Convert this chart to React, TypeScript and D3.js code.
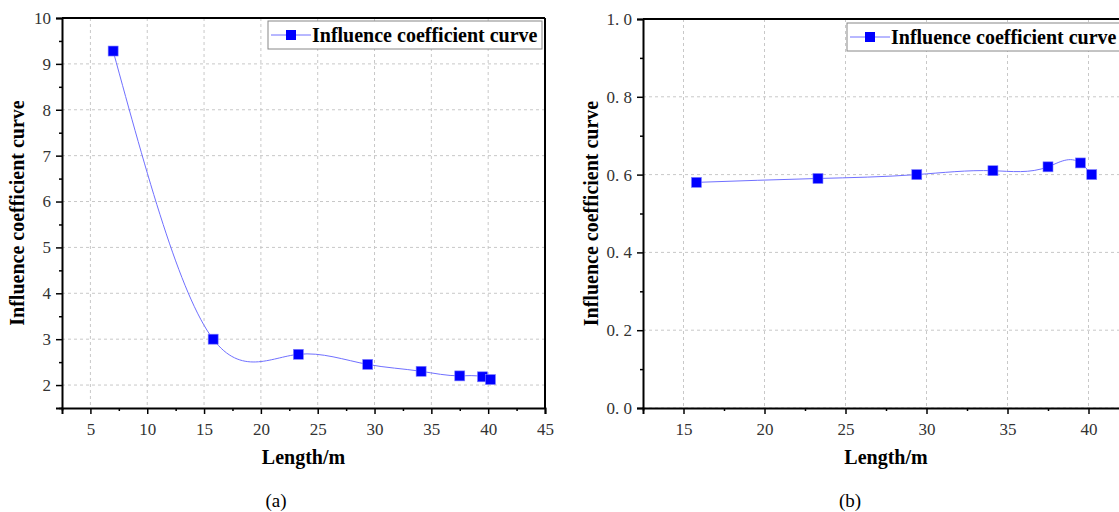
import { useEffect, useRef } from "react";
import * as d3 from "d3";

// panel (a)
const lengthA = [7, 15.8, 23.3, 29.4, 34.1, 37.5, 39.5, 40.2];
const coefA = [9.28, 3.0, 2.67, 2.45, 2.3, 2.2, 2.18, 2.12];
const xTicksA = [5, 10, 15, 20, 25, 30, 35, 40, 45];
const yTicksA = [2, 3, 4, 5, 6, 7, 8, 9, 10];

// panel (b)
const lengthB = [15.8, 23.3, 29.4, 34.1, 37.5, 39.5, 40.2];
const coefB = [0.58, 0.59, 0.6, 0.61, 0.62, 0.63, 0.6];
const xTicksB = [15, 20, 25, 30, 35, 40];
const yTicksB = [0, 0.2, 0.4, 0.6, 0.8, 1.0];

const seriesName = "Influence coefficient curve";
const serif = "'Liberation Serif', 'Times New Roman', Times, 'DejaVu Serif', serif";

// cubic spline in x (like Origin's "Spline" connect), as a d3 curve
class SplineX {
  _context: any;
  _x: number[] = [];
  _y: number[] = [];
  _line = NaN;
  constructor(context: any) {
    this._context = context;
  }
  areaStart() {
    this._line = 0;
  }
  areaEnd() {
    this._line = NaN;
  }
  lineStart() {
    this._x = [];
    this._y = [];
  }
  point(x: number, y: number) {
    this._x.push(+x);
    this._y.push(+y);
  }
  lineEnd() {
    const xs = this._x;
    const ys = this._y;
    const n = xs.length;
    if (!n) return;
    this._context.moveTo(xs[0], ys[0]);
    if (n === 2) {
      this._context.lineTo(xs[1], ys[1]);
      return;
    }
    const h: number[] = [];
    for (let i = 0; i < n - 1; i++) h.push(xs[i + 1] - xs[i]);
    // solve for second derivatives, natural ends
    const M = new Array(n).fill(0);
    const a: number[] = [], b: number[] = [], c: number[] = [], r: number[] = [];
    for (let i = 1; i < n - 1; i++) {
      a.push(h[i - 1]);
      b.push(2 * (h[i - 1] + h[i]));
      c.push(h[i]);
      r.push(6 * ((ys[i + 1] - ys[i]) / h[i] - (ys[i] - ys[i - 1]) / h[i - 1]));
    }
    const m = b.length;
    for (let i = 1; i < m; i++) {
      const w = a[i] / b[i - 1];
      b[i] -= w * c[i - 1];
      r[i] -= w * r[i - 1];
    }
    const sol = new Array(m).fill(0);
    sol[m - 1] = r[m - 1] / b[m - 1];
    for (let i = m - 2; i >= 0; i--) sol[i] = (r[i] - c[i] * sol[i + 1]) / b[i];
    for (let i = 0; i < m; i++) M[i + 1] = sol[i];
    for (let i = 0; i < n - 1; i++) {
      const s = (ys[i + 1] - ys[i]) / h[i];
      const m0 = s - (h[i] * (2 * M[i] + M[i + 1])) / 6;
      const m1 = s + (h[i] * (M[i] + 2 * M[i + 1])) / 6;
      this._context.bezierCurveTo(
        xs[i] + h[i] / 3,
        ys[i] + (h[i] * m0) / 3,
        xs[i + 1] - h[i] / 3,
        ys[i + 1] - (h[i] * m1) / 3,
        xs[i + 1],
        ys[i + 1]
      );
    }
  }
}
const curveSplineX = (context: any) => new SplineX(context);

type Panel = {
  xs: number[];
  ys: number[];
  xTicks: number[];
  yTicks: number[];
  xDomain: [number, number];
  yDomain: [number, number];
  xStep: number;
  yStep: number;
  yFmt: (d: number) => string;
  left: number;
  right: number;
  top: number;
  bottom: number;
  titleOffset: number;
  label: string;
  labelX: number;
  legendX: number;
  legendY: number;
};

const drawPanel = (svg: d3.Selection<SVGSVGElement, unknown, null, undefined>, p: Panel) => {
  const x = d3.scaleLinear().domain(p.xDomain).range([p.left, p.right]);
  const y = d3.scaleLinear().domain(p.yDomain).range([p.bottom, p.top]);
  const g = svg.append("g");

  // grid
  g.selectAll(".gx")
    .data(p.xTicks)
    .enter()
    .append("line")
    .attr("x1", (d) => x(d))
    .attr("x2", (d) => x(d))
    .attr("y1", p.top)
    .attr("y2", p.bottom)
    .attr("stroke", "#c8c8c8")
    .attr("stroke-dasharray", "3,3");
  g.selectAll(".gy")
    .data(p.yTicks)
    .enter()
    .append("line")
    .attr("x1", p.left)
    .attr("x2", p.right)
    .attr("y1", (d) => y(d))
    .attr("y2", (d) => y(d))
    .attr("stroke", "#c8c8c8")
    .attr("stroke-dasharray", "3,3");

  const xMinor = p.xTicks.map((d) => d - p.xStep / 2).concat([p.xTicks[p.xTicks.length - 1] + p.xStep / 2]);
  const yMinor = p.yTicks.map((d) => d - p.yStep / 2).concat([p.yTicks[p.yTicks.length - 1] + p.yStep / 2]);

  const xAxis = g
    .append("g")
    .attr("transform", `translate(0,${p.bottom})`)
    .call(d3.axisBottom(x).tickValues(p.xTicks).tickSize(6).tickPadding(9).tickFormat((d) => `${d}`));
  g.append("g")
    .attr("transform", `translate(0,${p.bottom})`)
    .call(d3.axisBottom(x).tickValues(xMinor.filter((d) => d >= p.xDomain[0] && d <= p.xDomain[1])).tickSize(3).tickFormat(() => ""))
    .select(".domain")
    .remove();

  const yAxis = g
    .append("g")
    .attr("transform", `translate(${p.left},0)`)
    .call(d3.axisLeft(y).tickValues(p.yTicks).tickSize(6).tickPadding(5).tickFormat((d) => p.yFmt(d as number)));
  g.append("g")
    .attr("transform", `translate(${p.left},0)`)
    .call(d3.axisLeft(y).tickValues(yMinor.filter((d) => d >= p.yDomain[0] && d <= p.yDomain[1])).tickSize(3).tickFormat(() => ""))
    .select(".domain")
    .remove();

  [xAxis, yAxis].forEach((a) => {
    a.selectAll("text")
      .style("font-family", serif)
      .style("font-size", "17px")
      .attr("fill", "#333");
  });
  g.selectAll(".domain").attr("stroke", "#000").attr("stroke-width", 2);
  g.selectAll(".tick line").attr("stroke", "#000").attr("stroke-width", 1.5);

  // frame
  g.append("line").attr("x1", p.left).attr("x2", p.right).attr("y1", p.top).attr("y2", p.top).attr("stroke", "#000").attr("stroke-width", 2);
  g.append("line").attr("x1", p.right).attr("x2", p.right).attr("y1", p.top).attr("y2", p.bottom).attr("stroke", "#000").attr("stroke-width", 2);

  // curve
  const pts = p.xs.map((v, i) => [v, p.ys[i]] as [number, number]);
  const line = d3
    .line<[number, number]>()
    .x((d) => x(d[0]))
    .y((d) => y(d[1]))
    .curve(curveSplineX as any);
  g.append("path").attr("d", line(pts)).attr("fill", "none").attr("stroke", "#7070ff").attr("stroke-width", 1);

  g.selectAll(".pt")
    .data(pts)
    .enter()
    .append("rect")
    .attr("x", (d) => x(d[0]) - 5)
    .attr("y", (d) => y(d[1]) - 5)
    .attr("width", 10)
    .attr("height", 10)
    .attr("fill", "#0000ff")
    .attr("stroke", "#8080ff")
    .attr("stroke-width", 0.6);

  // legend
  const lg = g.append("g").attr("transform", `translate(${p.legendX},${p.legendY})`);
  lg.append("rect").attr("width", 274).attr("height", 28).attr("fill", "#fff").attr("stroke", "#888").attr("stroke-width", 1);
  lg.append("line").attr("x1", 3).attr("x2", 43).attr("y1", 14).attr("y2", 14).attr("stroke", "#7070ff").attr("stroke-width", 1);
  lg.append("rect").attr("x", 18).attr("y", 9).attr("width", 10).attr("height", 10).attr("fill", "#0000ff");
  lg.append("text")
    .attr("x", 44)
    .attr("y", 21)
    .style("font-family", serif)
    .style("font-weight", "bold")
    .style("font-size", "20px")
    .text(seriesName);

  // axis titles
  g.append("text")
    .attr("x", (p.left + p.right) / 2)
    .attr("y", p.bottom + 56)
    .attr("text-anchor", "middle")
    .style("font-family", serif)
    .style("font-weight", "bold")
    .style("font-size", "20px")
    .text("Length/m");
  g.append("text")
    .attr("transform", `translate(${p.left - p.titleOffset},${(p.top + p.bottom) / 2}) rotate(-90)`)
    .attr("text-anchor", "middle")
    .style("font-family", serif)
    .style("font-weight", "bold")
    .style("font-size", "20px")
    .text(seriesName);
  g.append("text")
    .attr("x", p.labelX)
    .attr("y", 507)
    .attr("text-anchor", "middle")
    .style("font-family", serif)
    .style("font-size", "19px")
    .text(p.label);
};

const App = () => {
  const svgRef = useRef<SVGSVGElement>(null);

  useEffect(() => {
    const svg = d3.select(svgRef.current!);
    svg.selectAll("*").remove();

    drawPanel(svg, {
      xs: lengthA,
      ys: coefA,
      xTicks: xTicksA,
      yTicks: yTicksA,
      xDomain: [2.5, 45],
      yDomain: [1.5, 10],
      xStep: 5,
      yStep: 1,
      yFmt: (d) => `${d}`,
      left: 62,
      right: 545,
      top: 18,
      bottom: 408,
      titleOffset: 38,
      label: "(a)",
      labelX: 276,
      legendX: 268,
      legendY: 21,
    });

    drawPanel(svg, {
      xs: lengthB,
      ys: coefB,
      xTicks: xTicksB,
      yTicks: yTicksB,
      xDomain: [12.5, 42.5],
      yDomain: [0, 1],
      xStep: 5,
      yStep: 0.2,
      yFmt: (d) => d.toFixed(1).replace(".", ". "),
      left: 643,
      right: 1129,
      top: 19,
      bottom: 408,
      titleOffset: 45,
      label: "(b)",
      labelX: 850,
      legendX: 847,
      legendY: 23,
    });
  }, []);

  return (
    <svg
      ref={svgRef}
      width={1119}
      height={512}
      style={{ position: "absolute", left: 0, top: 0, background: "#fff" }}
    ></svg>
  );
};

export default App;
